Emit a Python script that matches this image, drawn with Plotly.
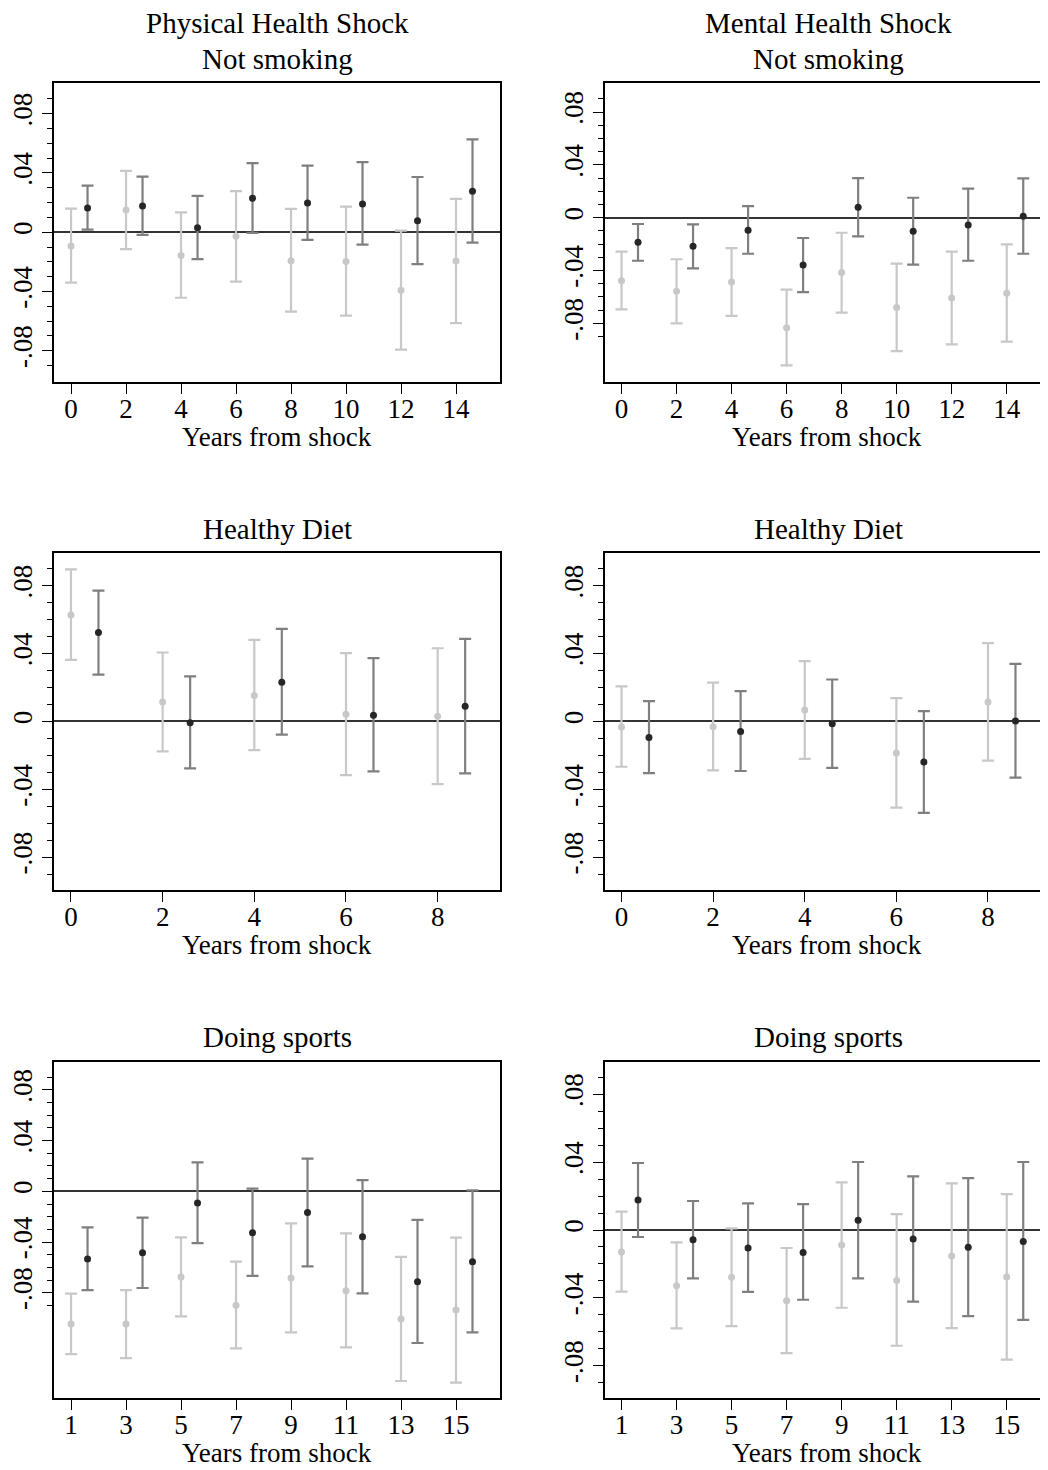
import plotly.graph_objects as go

# ---------------- data ----------------
years_a = [0, 2, 4, 6, 8, 10, 12, 14]
years_b = [0, 2, 4, 6, 8]
years_c = [1, 3, 5, 7, 9, 11, 13, 15]
DARK_OFFSET = 0.6

ytick_vals = [-0.08, -0.04, 0, 0.04, 0.08]
ytick_text = ["-.08", "-.04", "0", ".04", ".08"]
yminor_vals = [-0.09, -0.07, -0.06, -0.05, -0.03, -0.02, -0.01,
               0.01, 0.02, 0.03, 0.05, 0.06, 0.07, 0.09]

col_titles = ["Physical Health Shock", "Mental Health Shock"]
row_titles = ["Not smoking", "Healthy Diet", "Doing sports"]
x_title = "Years from shock"

# Physical / Not smoking
p1_light_est = [-0.0093, 0.0150, -0.0157, -0.0027, -0.0193, -0.0198, -0.0393, -0.0195]
p1_light_lo = [-0.0341, -0.0114, -0.0443, -0.0334, -0.0536, -0.0564, -0.0793, -0.0614]
p1_light_hi = [0.0159, 0.0414, 0.0134, 0.0277, 0.0157, 0.0173, 0.0011, 0.0225]
p1_dark_est = [0.0164, 0.0177, 0.0030, 0.0230, 0.0198, 0.0191, 0.0077, 0.0277]
p1_dark_lo = [0.0018, -0.0018, -0.0182, -0.0005, -0.0052, -0.0084, -0.0216, -0.0070]
p1_dark_hi = [0.0314, 0.0375, 0.0245, 0.0466, 0.0450, 0.0473, 0.0373, 0.0627]

# Mental / Not smoking
p2_light_est = [-0.0477, -0.0558, -0.0487, -0.0833, -0.0416, -0.0681, -0.0608, -0.0573]
p2_light_lo = [-0.0694, -0.0800, -0.0744, -0.1118, -0.0719, -0.1010, -0.0959, -0.0939]
p2_light_hi = [-0.0257, -0.0315, -0.0230, -0.0545, -0.0114, -0.0348, -0.0257, -0.0202]
p2_dark_est = [-0.0187, -0.0217, -0.0096, -0.0358, 0.0078, -0.0103, -0.0056, 0.0010]
p2_dark_lo = [-0.0326, -0.0384, -0.0273, -0.0563, -0.0141, -0.0356, -0.0326, -0.0273]
p2_dark_hi = [-0.0048, -0.0050, 0.0088, -0.0154, 0.0300, 0.0151, 0.0220, 0.0298]

# Physical / Healthy Diet
p3_light_est = [0.0627, 0.0114, 0.0153, 0.0043, 0.0031]
p3_light_lo = [0.0363, -0.0176, -0.0169, -0.0316, -0.0369]
p3_light_hi = [0.0896, 0.0406, 0.0480, 0.0402, 0.0431]
p3_dark_est = [0.0524, -0.0008, 0.0231, 0.0037, 0.0090]
p3_dark_lo = [0.0276, -0.0276, -0.0078, -0.0294, -0.0306]
p3_dark_hi = [0.0771, 0.0265, 0.0545, 0.0373, 0.0486]

# Mental / Healthy Diet
p4_light_est = [-0.0033, -0.0031, 0.0067, -0.0186, 0.0114]
p4_light_lo = [-0.0267, -0.0288, -0.0220, -0.0508, -0.0231]
p4_light_hi = [0.0206, 0.0229, 0.0355, 0.0137, 0.0461]
p4_dark_est = [-0.0094, -0.0059, -0.0014, -0.0239, 0.0002]
p4_dark_lo = [-0.0304, -0.0292, -0.0273, -0.0539, -0.0331]
p4_dark_hi = [0.0120, 0.0178, 0.0247, 0.0061, 0.0339]

# Physical / Doing sports
p5_light_est = [-0.1047, -0.1047, -0.0676, -0.0900, -0.0684, -0.0784, -0.1008, -0.0937]
p5_light_lo = [-0.1284, -0.1316, -0.0987, -0.1239, -0.1113, -0.1232, -0.1497, -0.1510]
p5_light_hi = [-0.0808, -0.0779, -0.0363, -0.0555, -0.0253, -0.0332, -0.0518, -0.0366]
p5_dark_est = [-0.0534, -0.0484, -0.0092, -0.0326, -0.0168, -0.0358, -0.0713, -0.0555]
p5_dark_lo = [-0.0779, -0.0763, -0.0408, -0.0668, -0.0592, -0.0805, -0.1197, -0.1113]
p5_dark_hi = [-0.0284, -0.0208, 0.0229, 0.0021, 0.0258, 0.0089, -0.0226, 0.0008]

# Mental / Doing sports
p6_light_est = [-0.0130, -0.0328, -0.0279, -0.0417, -0.0088, -0.0297, -0.0153, -0.0277]
p6_light_lo = [-0.0363, -0.0580, -0.0566, -0.0725, -0.0458, -0.0682, -0.0578, -0.0764]
p6_light_hi = [0.0108, -0.0073, 0.0010, -0.0106, 0.0281, 0.0094, 0.0275, 0.0212]
p6_dark_est = [0.0177, -0.0057, -0.0106, -0.0132, 0.0057, -0.0053, -0.0102, -0.0067]
p6_dark_lo = [-0.0041, -0.0285, -0.0365, -0.0411, -0.0285, -0.0422, -0.0507, -0.0530]
p6_dark_hi = [0.0395, 0.0171, 0.0157, 0.0153, 0.0401, 0.0316, 0.0306, 0.0401]

# ---------------- layout / style ----------------
# the page body has an 8px default margin, so the figure is drawn 8px smaller
# and all window-pixel positions are shifted by that margin
OFF = 8
W, H = 1048 - OFF, 1470 - OFF
FONT = "Liberation Serif, Times New Roman, serif"
LIGHT = "#c8c8c8"
DARK_BAR = "#7f7f7f"
DARK_PT = "#262626"
TICK_SIZE = 27
TITLE_SIZE = 29
XTITLE_SIZE = 27

def fx(p):
    return (p - OFF) / W

def fy(p):
    return 1 - (p - OFF) / H

panels = [
    dict(years=years_a, le=p1_light_est, ll=p1_light_lo, lh=p1_light_hi,
         de=p1_dark_est, dl=p1_dark_lo, dh=p1_dark_hi,
         xpx=(54, 500), ypx=(82.7, 381.7), xr=(-0.62, 15.6), yr=(-0.101, 0.101), right=False),
    dict(years=years_a, le=p2_light_est, ll=p2_light_lo, lh=p2_light_hi,
         de=p2_dark_est, dl=p2_dark_lo, dh=p2_dark_hi,
         xpx=(605, 1048), ypx=(82.7, 381.7), xr=(-0.6, 15.5), yr=(-0.1242, 0.1022), right=True),
    dict(years=years_b, le=p3_light_est, ll=p3_light_lo, lh=p3_light_hi,
         de=p3_dark_est, dl=p3_dark_lo, dh=p3_dark_hi,
         xpx=(54, 500), ypx=(552.7, 890), xr=(-0.37, 9.36), yr=(-0.0993, 0.0994), right=False),
    dict(years=years_b, le=p4_light_est, ll=p4_light_lo, lh=p4_light_hi,
         de=p4_dark_est, dl=p4_dark_lo, dh=p4_dark_hi,
         xpx=(605, 1048), ypx=(552.7, 890), xr=(-0.36, 9.31), yr=(-0.0993, 0.0994), right=True),
    dict(years=years_c, le=p5_light_est, ll=p5_light_lo, lh=p5_light_hi,
         de=p5_dark_est, dl=p5_dark_lo, dh=p5_dark_hi,
         xpx=(54, 500), ypx=(1061.7, 1398), xr=(0.38, 16.6), yr=(-0.1631, 0.1023), right=False),
    dict(years=years_c, le=p6_light_est, ll=p6_light_lo, lh=p6_light_hi,
         de=p6_dark_est, dl=p6_dark_lo, dh=p6_dark_hi,
         xpx=(605, 1048), ypx=(1061.7, 1398), xr=(0.4, 16.5), yr=(-0.099, 0.0992), right=True),
]

fig = go.Figure()
layout = dict(
    width=W, height=H, margin=dict(l=0, r=0, t=0, b=0, autoexpand=False),
    paper_bgcolor="white", plot_bgcolor="white", showlegend=False,
    font=dict(family=FONT, color="black", size=TICK_SIZE),
)
annotations = []

for i, p in enumerate(panels):
    n = i + 1
    xa, ya = f"x{n}", f"y{n}"
    xk = "xaxis" if n == 1 else f"xaxis{n}"
    yk = "yaxis" if n == 1 else f"yaxis{n}"

    fig.add_trace(go.Scatter(
        x=p["years"], y=p["le"], mode="markers", xaxis=xa, yaxis=ya,
        marker=dict(color=LIGHT, size=7),
        error_y=dict(type="data", symmetric=False,
                     array=[h - e for h, e in zip(p["lh"], p["le"])],
                     arrayminus=[e - l for e, l in zip(p["le"], p["ll"])],
                     color=LIGHT, thickness=2.2, width=6),
        hoverinfo="skip"))
    fig.add_trace(go.Scatter(
        x=[v + DARK_OFFSET for v in p["years"]], y=p["de"], mode="markers", xaxis=xa, yaxis=ya,
        marker=dict(color=DARK_PT, size=7),
        error_y=dict(type="data", symmetric=False,
                     array=[h - e for h, e in zip(p["dh"], p["de"])],
                     arrayminus=[e - l for e, l in zip(p["de"], p["dl"])],
                     color=DARK_BAR, thickness=2.2, width=6),
        hoverinfo="skip"))

    x0, x1 = p["xpx"]
    y0, y1 = p["ypx"]
    layout[xk] = dict(
        domain=[fx(x0), min(1.0, fx(x1))], range=list(p["xr"]), anchor=ya, automargin=False,
        tickmode="array", tickvals=p["years"], ticktext=[str(v) for v in p["years"]],
        ticks="outside", ticklen=10, tickwidth=1.4, tickcolor="black",
        ticklabelstandoff=-8,
        showline=True, linecolor="black", linewidth=2, mirror=True,
        showgrid=False, zeroline=False,
        tickfont=dict(family=FONT, size=TICK_SIZE, color="black"),
    )
    layout[yk] = dict(
        domain=[fy(y1), fy(y0)], range=list(p["yr"]), anchor=xa, automargin=False,
        tickmode="array", tickvals=ytick_vals, ticktext=ytick_text, tickangle=-90,
        ticks="outside", ticklen=10, tickwidth=1.4, tickcolor="black",
        ticklabelstandoff=-1,
        minor=dict(tickmode="array", tickvals=yminor_vals, ticks="outside",
                   ticklen=5, tickwidth=1.2, tickcolor="black", showgrid=False),
        showline=True, linecolor="black", linewidth=2, mirror=not p["right"],
        showgrid=False, zeroline=True, zerolinecolor="#333333", zerolinewidth=1.8,
        tickfont=dict(family=FONT, size=TICK_SIZE, color="black"),
    )

    cx = fx((x0 + x1) / 2)
    annotations.append(dict(text=x_title, xref="paper", yref="paper", x=cx, y=fy(y1 + 55),
                            xanchor="center", yanchor="middle", showarrow=False,
                            font=dict(family=FONT, size=XTITLE_SIZE, color="black")))

# panel titles
for c, cx_px in enumerate([277, 828]):
    annotations.append(dict(text=col_titles[c], xref="paper", yref="paper", x=fx(cx_px), y=fy(23),
                            xanchor="center", yanchor="middle", showarrow=False,
                            font=dict(family=FONT, size=TITLE_SIZE, color="black")))
    for r, ty in enumerate([59, 529, 1037]):
        annotations.append(dict(text=row_titles[r], xref="paper", yref="paper", x=fx(cx_px), y=fy(ty),
                                xanchor="center", yanchor="middle", showarrow=False,
                                font=dict(family=FONT, size=TITLE_SIZE, color="black")))

layout["annotations"] = annotations
fig.update_layout(**layout)
fig.write_html("out.html")
